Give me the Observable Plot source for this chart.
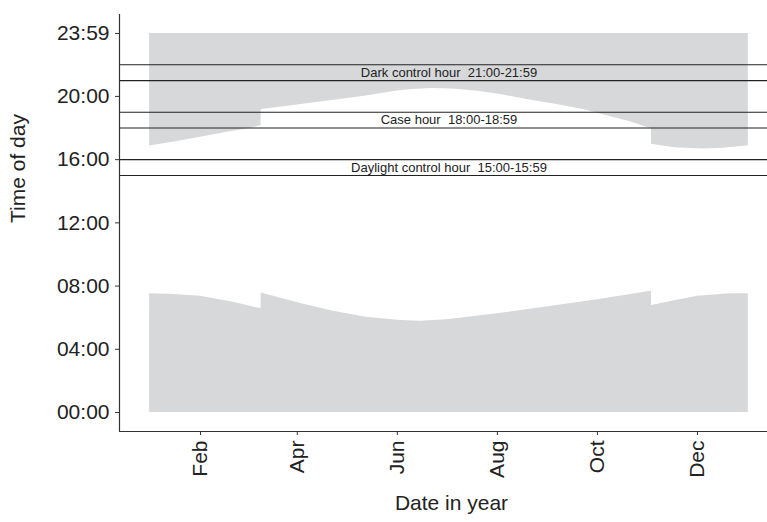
<!DOCTYPE html>
<html>
<head>
<meta charset="utf-8">
<script src="https://cdn.jsdelivr.net/npm/d3@7"></script>
<script src="https://cdn.jsdelivr.net/npm/@observablehq/plot@0.6"></script>
<style>
  html, body { margin: 0; padding: 0; background: #fff; }
  #chart svg { display: block; }
</style>
</head>
<body>
<div id="chart"></div>
<script>
// Day of year (0 = Jan 1, 2013) and clock hour of darkness boundaries
const dawnDay  = [0, 15, 31, 51, 67.9, 68, 92, 112, 132, 153, 165, 181, 212, 242, 273, 305.9, 306, 320, 334, 354, 365];
const dawnHour = [7.51, 7.47, 7.36, 6.98, 6.56, 7.56, 6.9, 6.41, 6.03, 5.82, 5.78, 5.87, 6.25, 6.67, 7.13, 7.68, 6.77, 7.08, 7.36, 7.51, 7.51];

const duskDay  = [0, 15, 31, 45, 60, 67.9, 68, 90, 110, 130, 150, 160, 171, 185, 200, 215, 230, 250, 265, 280, 293, 305.9, 306, 320, 337, 350, 365];
const duskHour = [16.87, 17.12, 17.42, 17.68, 17.95, 18.15, 19.17, 19.45, 19.72, 20.0, 20.33, 20.44, 20.5, 20.47, 20.33, 20.1, 19.8, 19.45, 19.15, 18.75, 18.4, 17.95, 16.97, 16.76, 16.68, 16.72, 16.88];

const endOfDay = 23.983;

const bandHours  = [15, 16, 18, 19, 21, 22];
const bandLabels = ["Daylight control hour  15:00-15:59", "Case hour  18:00-18:59", "Dark control hour  21:00-21:59"];
const bandLabelHours = [15.5, 18.5, 21.5];

const yTickValues = [0, 4, 8, 12, 16, 20, 23.983];
const yTickLabels = ["00:00", "04:00", "08:00", "12:00", "16:00", "20:00", "23:59"];

const xTickMonths = [1, 3, 5, 7, 9, 11];
const xTickLabels = ["Feb", "Apr", "Jun", "Aug", "Oct", "Dec"];

const base = Date.UTC(2013, 0, 1);
const day = d => new Date(base + d * 864e5);

const dawn = dawnDay.map((d, i) => ({date: day(d), h: dawnHour[i]}));
const dusk = duskDay.map((d, i) => ({date: day(d), h: duskHour[i]}));
const labels = bandLabels.map((t, i) => ({date: day(182.5), h: bandLabelHours[i], t}));
const xTicks = xTickMonths.map(m => new Date(Date.UTC(2013, m, 1)));

const xDomain = [day(-18.4), day(376.7)];
const yDomain = [-1.2, 25.183];
const gray = "#d7d8da";
const ink = "#222";

const chart = Plot.plot({
  width: 767,
  height: 522,
  marginLeft: 119,
  marginRight: 0,
  marginTop: 14,
  marginBottom: 91,
  style: {fontFamily: "'Liberation Sans', Arial, sans-serif", background: "#fff", color: ink},
  x: {type: "utc", domain: xDomain},
  y: {domain: yDomain},
  marks: [
    Plot.areaY(dawn, {x: "date", y1: 0, y2: "h", fill: gray}),
    Plot.areaY(dusk, {x: "date", y1: "h", y2: endOfDay, fill: gray}),
    Plot.ruleY(bandHours, {stroke: ink, strokeWidth: 1.1}),
    Plot.text(labels, {x: "date", y: "h", text: "t", fontSize: 13, fill: ink}),
    Plot.ruleX([xDomain[0]], {stroke: "#333", strokeWidth: 1.2}),
    Plot.ruleY([yDomain[0]], {stroke: "#333", strokeWidth: 1.2}),
    Plot.axisY({
      ticks: yTickValues,
      tickFormat: (v, i) => yTickLabels[yTickValues.indexOf(v)],
      tickSize: 4, tickPadding: 6, fontSize: 21, label: null, stroke: "#333"
    }),
    Plot.axisX({
      ticks: xTicks,
      tickFormat: (d) => xTickLabels[xTicks.findIndex(t => +t === +d)],
      tickSize: 4, tickPadding: 5, tickRotate: -90, fontSize: 21, label: null, stroke: "#333"
    }),
    Plot.text(["Date in year"], {frameAnchor: "bottom", dx: 8, dy: 78, fontSize: 21, fill: ink}),
    Plot.text(["Time of day"], {frameAnchor: "left", dx: -101, rotate: -90, fontSize: 21, fill: ink})
  ]
});
document.getElementById("chart").appendChild(chart);
</script>
</body>
</html>
